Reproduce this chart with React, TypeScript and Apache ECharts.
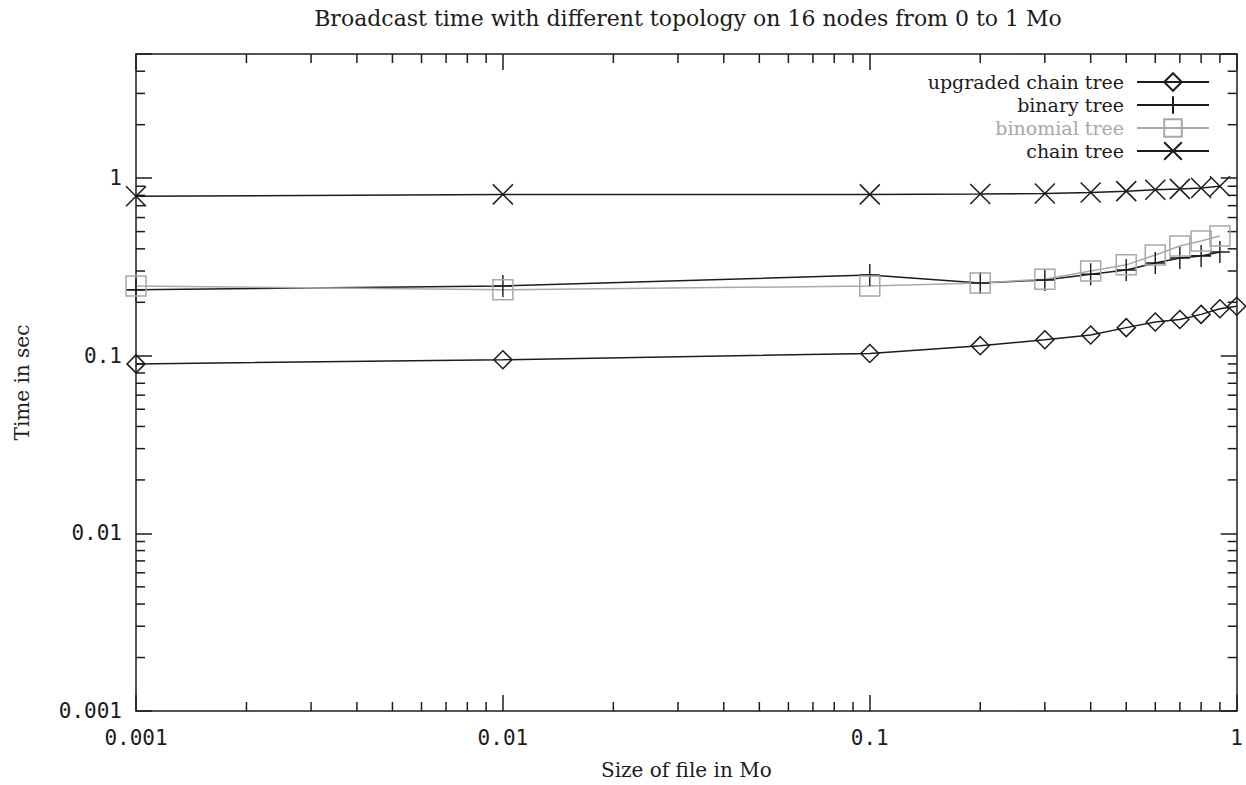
import React, { useEffect, useRef } from "react";
import * as echarts from "echarts";

const TITLE = "Broadcast time with different topology on 16 nodes from 0 to 1 Mo";
const X_NAME = "Size of file in Mo";
const Y_NAME = "Time in sec";

const X_TICK_LABELS = ["0.001", "0.01", "0.1", "1"];
const Y_TICK_LABELS = ["0.001", "0.01", "0.1", "1"];

const X_SIZES = [0.001, 0.01, 0.1, 0.2, 0.3, 0.4, 0.5, 0.6, 0.7, 0.8, 0.9];
const X_SIZES_UPGRADED = [0.001, 0.01, 0.1, 0.2, 0.3, 0.4, 0.5, 0.6, 0.7, 0.8, 0.9, 1.0];

const UPGRADED_CHAIN = [0.09, 0.095, 0.103, 0.114, 0.123, 0.131, 0.144, 0.155, 0.16, 0.171, 0.184, 0.19];
const BINARY_TREE = [0.235, 0.247, 0.285, 0.257, 0.267, 0.288, 0.304, 0.333, 0.355, 0.365, 0.384];
const BINOMIAL_TREE = [0.247, 0.235, 0.247, 0.257, 0.27, 0.3, 0.325, 0.369, 0.415, 0.443, 0.472];
const CHAIN_TREE = [0.79, 0.81, 0.81, 0.815, 0.82, 0.83, 0.845, 0.86, 0.87, 0.88, 0.9];

const X_MIN = 0.001;
const X_MAX = 1;
const Y_MIN = 0.001;
const Y_MAX = 5;

const X_MINOR_TICKS = [
  0.002, 0.003, 0.004, 0.005, 0.006, 0.007, 0.008, 0.009,
  0.02, 0.03, 0.04, 0.05, 0.06, 0.07, 0.08, 0.09,
  0.2, 0.3, 0.4, 0.5, 0.6, 0.7, 0.8, 0.9,
];
const Y_MINOR_TICKS = [
  0.002, 0.003, 0.004, 0.005, 0.006, 0.007, 0.008, 0.009,
  0.02, 0.03, 0.04, 0.05, 0.06, 0.07, 0.08, 0.09,
  0.2, 0.3, 0.4, 0.5, 0.6, 0.7, 0.8, 0.9,
  2, 3, 4,
];

const INK = "#1c1c1c";
const GRAY = "#a8a8a8";
const SERIF = "'DejaVu Serif', serif";
const MONO = "'DejaVu Sans Mono', monospace";

const PLUS = "path://M-1,0L1,0M0,-1L0,1";
const CROSS = "path://M-1,-1L1,1M-1,1L1,-1";

function tickLabel(labels: string[]) {
  return (v: number) => {
    const l = Math.log10(v);
    const e = Math.round(l);
    if (Math.abs(l - e) > 1e-6) return "";
    return labels[e + 3] ?? "";
  };
}

function pairs(xs: number[], ys: number[]) {
  return ys.map((y, i) => [xs[i], y]);
}

export default function App() {
  const ref = useRef<HTMLDivElement>(null);
  useEffect(() => {
    if (!ref.current) return;
    const chart = echarts.init(ref.current, null, { renderer: "svg" });

    const axisLine = { show: true, lineStyle: { color: INK, width: 1.5 } };
    const axisTick = { show: true, inside: true, length: 16, lineStyle: { color: INK, width: 1.5 } };

    const lineSeries = (name: string, data: number[][], symbol: string, size: number | number[], color: string) => ({
      name,
      type: "line",
      xAxisIndex: 0,
      yAxisIndex: 0,
      data,
      symbol,
      symbolSize: size,
      showAllSymbol: true,
      lineStyle: { color, width: 1.5 },
      itemStyle: { color: "rgba(0,0,0,0)", borderColor: color, borderWidth: 1.5 },
      emphasis: { disabled: true },
      z: 3,
    });

    const minorTickSeries = (ticks: number[], dir: "x" | "y") => ({
      type: "custom",
      xAxisIndex: 0,
      yAxisIndex: 0,
      silent: true,
      z: 1,
      data: ticks.map((t) => (dir === "x" ? [t, 1] : [X_MIN, t])),
      renderItem: (params: any, api: any) => {
        const cs = params.coordSys;
        const style = { stroke: INK, lineWidth: 1.5 };
        const L = 9;
        if (dir === "x") {
          const p = api.coord([api.value(0), 1]);
          const x = p[0];
          return {
            type: "group",
            children: [
              { type: "line", shape: { x1: x, y1: cs.y + cs.height, x2: x, y2: cs.y + cs.height - L }, style },
              { type: "line", shape: { x1: x, y1: cs.y, x2: x, y2: cs.y + L }, style },
            ],
          };
        }
        const p = api.coord([X_MIN, api.value(1)]);
        const y = p[1];
        return {
          type: "group",
          children: [
            { type: "line", shape: { x1: cs.x, y1: y, x2: cs.x + L, y2: y }, style },
            { type: "line", shape: { x1: cs.x + cs.width, y1: y, x2: cs.x + cs.width - L, y2: y }, style },
          ],
        };
      },
    });

    const option: any = {
      animation: false,
      backgroundColor: "#ffffff",
      graphic: [
        {
          type: "text",
          x: 688,
          y: 18,
          style: {
            text: TITLE,
            align: "center",
            verticalAlign: "middle",
            font: `22px ${SERIF}`,
            fill: INK,
          },
        },
      ],
      grid: { left: 136, top: 54, right: 9, bottom: 71, containLabel: false },
      legend: {
        orient: "vertical",
        align: "right",
        right: 36,
        top: 72,
        padding: 0,
        itemWidth: 72,
        itemHeight: 22,
        itemGap: 3,
        selectedMode: false,
        textStyle: { fontFamily: SERIF, fontSize: 19, lineHeight: 20, color: INK, padding: [0, 8, 0, 0] },
        data: [
          { name: "upgraded chain tree" },
          { name: "binary tree" },
          { name: "binomial tree", textStyle: { color: GRAY } },
          { name: "chain tree" },
        ],
      },
      xAxis: [
        {
          type: "log",
          logBase: 10,
          min: X_MIN,
          max: X_MAX,
          position: "bottom",
          name: X_NAME,
          nameLocation: "middle",
          nameGap: 49,
          nameTextStyle: { fontFamily: SERIF, fontSize: 20, color: INK },
          axisLine,
          axisTick,
          axisLabel: { formatter: tickLabel(X_TICK_LABELS), fontFamily: MONO, fontSize: 21, color: INK, margin: 16 },
          splitLine: { show: false },
          minorTick: { show: false },
        },
        {
          type: "log",
          logBase: 10,
          min: X_MIN,
          max: X_MAX,
          position: "top",
          axisLine,
          axisTick,
          axisLabel: { show: false },
          splitLine: { show: false },
        },
      ],
      yAxis: [
        {
          type: "log",
          logBase: 10,
          min: Y_MIN,
          max: Y_MAX,
          position: "left",
          name: Y_NAME,
          nameLocation: "middle",
          nameGap: 104,
          nameRotate: 90,
          nameTextStyle: { fontFamily: SERIF, fontSize: 20, color: INK },
          axisLine,
          axisTick,
          axisLabel: { formatter: tickLabel(Y_TICK_LABELS), fontFamily: MONO, fontSize: 21, color: INK, margin: 14 },
          splitLine: { show: false },
        },
        {
          type: "log",
          logBase: 10,
          min: Y_MIN,
          max: Y_MAX,
          position: "right",
          axisLine,
          axisTick,
          axisLabel: { show: false },
          splitLine: { show: false },
        },
      ],
      series: [
        minorTickSeries(X_MINOR_TICKS, "x"),
        minorTickSeries(Y_MINOR_TICKS, "y"),
        lineSeries("upgraded chain tree", pairs(X_SIZES_UPGRADED, UPGRADED_CHAIN), "diamond", [18, 18], INK),
        lineSeries("binary tree", pairs(X_SIZES, BINARY_TREE), PLUS, [20, 22], INK),
        lineSeries("binomial tree", pairs(X_SIZES, BINOMIAL_TREE), "rect", [20, 20], GRAY),
        lineSeries("chain tree", pairs(X_SIZES, CHAIN_TREE), CROSS, [20, 20], INK),
      ],
    };

    chart.setOption(option);
    return () => chart.dispose();
  }, []);

  return (
    <div
      ref={ref}
      style={{ position: "fixed", left: 0, top: 0, width: 1246, height: 785, background: "#fff" }}
    />
  );
}
